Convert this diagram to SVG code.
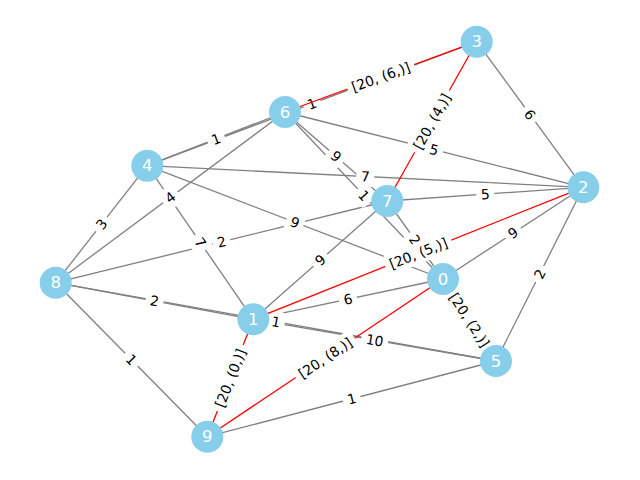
<svg xmlns="http://www.w3.org/2000/svg" width="640" height="480" viewBox="0 0 640 480">
<style>
.e{stroke:#808080;stroke-width:1.3;fill:none}
.r{stroke:#ff0000;stroke-width:1.3;fill:none}
.lb rect{fill:#fff;stroke:#fff}
.lb text{font-family:"DejaVu Sans",sans-serif;font-size:13.9px;fill:#000;text-anchor:middle;dominant-baseline:central}
.n circle{fill:#87ceeb}
.n text{font-family:"DejaVu Sans",sans-serif;font-size:16.5px;fill:#fff;text-anchor:middle;dominant-baseline:central}
</style>
<rect width="640" height="480" fill="#fff"/>
<g id="connectors">
<line class="e" x1="476.7" y1="41.7" x2="583.3" y2="187.3"/>
<line class="e" x1="285" y1="112" x2="583.3" y2="187.3"/>
<line class="e" x1="147.3" y1="165.7" x2="285" y2="112"/>
<line class="e" x1="147.3" y1="165.7" x2="476.7" y2="41.7"/>
<line class="e" x1="147.3" y1="165.7" x2="583.3" y2="187.3"/>
<line class="e" x1="387.3" y1="201" x2="583.3" y2="187.3"/>
<line class="e" x1="285" y1="112" x2="387.3" y2="201"/>
<line class="e" x1="285" y1="112" x2="443" y2="279"/>
<line class="e" x1="387.3" y1="201" x2="443" y2="279"/>
<line class="e" x1="147.3" y1="165.7" x2="443" y2="279"/>
<line class="e" x1="55.7" y1="282.7" x2="147.3" y2="165.7"/>
<line class="e" x1="55.7" y1="282.7" x2="285" y2="112"/>
<line class="e" x1="147.3" y1="165.7" x2="253.3" y2="319.3"/>
<line class="e" x1="55.7" y1="282.7" x2="387.3" y2="201"/>
<line class="e" x1="55.7" y1="282.7" x2="253.3" y2="319.3"/>
<line class="e" x1="55.7" y1="282.7" x2="496" y2="361"/>
<line class="e" x1="55.7" y1="282.7" x2="207.3" y2="436.7"/>
<line class="e" x1="253.3" y1="319.3" x2="387.3" y2="201"/>
<line class="e" x1="253.3" y1="319.3" x2="443" y2="279"/>
<line class="e" x1="253.3" y1="319.3" x2="496" y2="361"/>
<line class="e" x1="443" y1="279" x2="583.3" y2="187.3"/>
<line class="e" x1="583.3" y1="187.3" x2="496" y2="361"/>
<line class="e" x1="207.3" y1="436.7" x2="496" y2="361"/>
</g>
<g id="gray-labels" class="lb">
<g transform="translate(530,114.5) rotate(53.8)"><rect x="-8.5" y="-10" width="17" height="20" rx="4"/><text>6</text></g>
<g transform="translate(434,149.7) rotate(14.2)"><rect x="-8.5" y="-10" width="17" height="20" rx="4"/><text>5</text></g>
<g transform="translate(216,139) rotate(-21.3)"><rect x="-8.5" y="-10" width="17" height="20" rx="4"/><text>1</text></g>
<g transform="translate(312,103.7) rotate(-20.6)"><rect x="-8.5" y="-10" width="17" height="20" rx="4"/><text>1</text></g>
<g transform="translate(365.3,176.5) rotate(2.8)"><rect x="-8.5" y="-10" width="17" height="20" rx="4"/><text>7</text></g>
<g transform="translate(485.3,194.2) rotate(-4)"><rect x="-8.5" y="-10" width="17" height="20" rx="4"/><text>5</text></g>
<g transform="translate(336,156.5) rotate(41)"><rect x="-8.5" y="-10" width="17" height="20" rx="4"/><text>9</text></g>
<g transform="translate(364,195.5) rotate(46.6)"><rect x="-8.5" y="-10" width="17" height="20" rx="4"/><text>1</text></g>
<g transform="translate(415,240) rotate(54.5)"><rect x="-8.5" y="-10" width="17" height="20" rx="4"/><text>2</text></g>
<g transform="translate(295,222.4) rotate(21)"><rect x="-8.5" y="-10" width="17" height="20" rx="4"/><text>9</text></g>
<g transform="translate(101.5,224.2) rotate(-52)"><rect x="-8.5" y="-10" width="17" height="20" rx="4"/><text>3</text></g>
<g transform="translate(170.3,197.4) rotate(-36.7)"><rect x="-8.5" y="-10" width="17" height="20" rx="4"/><text>4</text></g>
<g transform="translate(200.3,242.5) rotate(55.4)"><rect x="-8.5" y="-10" width="17" height="20" rx="4"/><text>7</text></g>
<g transform="translate(221.5,241.9) rotate(-13.8)"><rect x="-8.5" y="-10" width="17" height="20" rx="4"/><text>2</text></g>
<g transform="translate(154.5,301) rotate(10.5)"><rect x="-8.5" y="-10" width="17" height="20" rx="4"/><text>2</text></g>
<g transform="translate(275.9,321.9) rotate(10.1)"><rect x="-8.5" y="-10" width="17" height="20" rx="4"/><text>1</text></g>
<g transform="translate(131.5,359.7) rotate(45.4)"><rect x="-8.5" y="-10" width="17" height="20" rx="4"/><text>1</text></g>
<g transform="translate(320.3,260.2) rotate(-41.4)"><rect x="-8.5" y="-10" width="17" height="20" rx="4"/><text>9</text></g>
<g transform="translate(348,299.3) rotate(-12)"><rect x="-8.5" y="-10" width="17" height="20" rx="4"/><text>6</text></g>
<g transform="translate(374.7,340.2) rotate(9.75)"><rect x="-13" y="-10" width="26" height="20" rx="4"/><text>10</text></g>
<g transform="translate(513,233) rotate(-33.2)"><rect x="-8.5" y="-10" width="17" height="20" rx="4"/><text>9</text></g>
<g transform="translate(539.7,274) rotate(-63.3)"><rect x="-8.5" y="-10" width="17" height="20" rx="4"/><text>2</text></g>
<g transform="translate(351.7,398.9) rotate(-14.7)"><rect x="-8.5" y="-10" width="17" height="20" rx="4"/><text>1</text></g>
</g>
<g id="red-connectors">
<line class="r" x1="285" y1="112" x2="476.7" y2="41.7"/>
<line class="r" x1="387.3" y1="201" x2="476.7" y2="41.7"/>
<line class="r" x1="253.3" y1="319.3" x2="583.3" y2="187.3"/>
<line class="r" x1="207.3" y1="436.7" x2="253.3" y2="319.3"/>
<line class="r" x1="207.3" y1="436.7" x2="443" y2="279"/>
<line class="r" x1="443" y1="279" x2="496" y2="361"/>
</g>
<g id="red-labels" class="lb">
<g transform="translate(380.8,76.9) rotate(-20.1)"><rect x="-35" y="-10" width="70" height="20" rx="4"/><text>[20, (6,)]</text></g>
<g transform="translate(432,121.4) rotate(-60.7)"><rect x="-35" y="-10" width="70" height="20" rx="4"/><text>[20, (4,)]</text></g>
<g transform="translate(418.3,253.3) rotate(-21.8)"><rect x="-35" y="-10" width="70" height="20" rx="4"/><text>[20, (5,)]</text></g>
<g transform="translate(230.3,378) rotate(-68.6)"><rect x="-35" y="-10" width="70" height="20" rx="4"/><text>[20, (0,)]</text></g>
<g transform="translate(325.2,357.9) rotate(-33.8)"><rect x="-35" y="-10" width="70" height="20" rx="4"/><text>[20, (8,)]</text></g>
<g transform="translate(469.5,320) rotate(57.1)"><rect x="-35" y="-10" width="70" height="20" rx="4"/><text>[20, (2,)]</text></g>
</g>
<g id="node0" class="n"><circle cx="443" cy="279" r="16"/><text x="443" y="279">0</text></g>
<g id="node1" class="n"><circle cx="253.3" cy="319.3" r="16"/><text x="253.3" y="319.3">1</text></g>
<g id="node2" class="n"><circle cx="583.3" cy="187.3" r="16"/><text x="583.3" y="187.3">2</text></g>
<g id="node3" class="n"><circle cx="476.7" cy="41.7" r="16"/><text x="476.7" y="41.7">3</text></g>
<g id="node4" class="n"><circle cx="147.3" cy="165.7" r="16"/><text x="147.3" y="165.7">4</text></g>
<g id="node5" class="n"><circle cx="496" cy="361" r="16"/><text x="496" y="361">5</text></g>
<g id="node6" class="n"><circle cx="285" cy="112" r="16"/><text x="285" y="112">6</text></g>
<g id="node7" class="n"><circle cx="387.3" cy="201" r="16"/><text x="387.3" y="201">7</text></g>
<g id="node8" class="n"><circle cx="55.7" cy="282.7" r="16"/><text x="55.7" y="282.7">8</text></g>
<g id="node9" class="n"><circle cx="207.3" cy="436.7" r="16"/><text x="207.3" y="436.7">9</text></g>
</svg>
